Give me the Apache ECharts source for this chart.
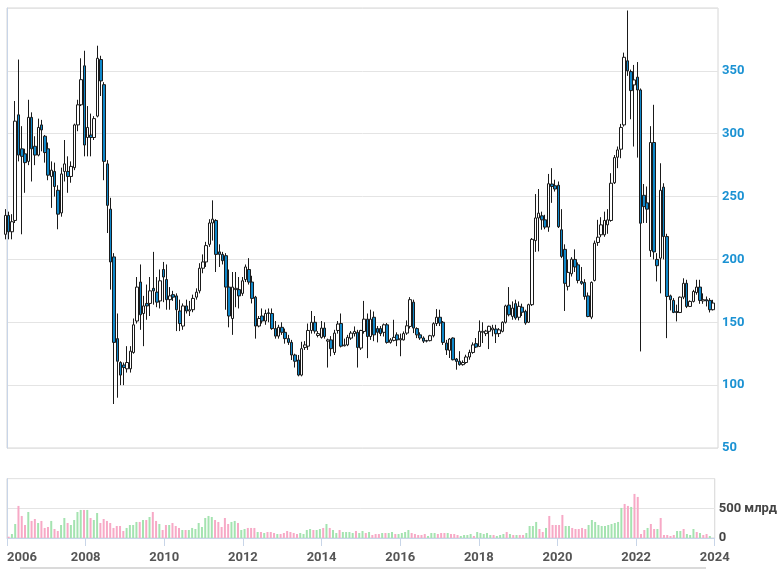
<!DOCTYPE html>
<html><head><meta charset="utf-8">
<script src="https://cdn.jsdelivr.net/npm/echarts@6/dist/echarts.min.js"></script>
<style>html,body{margin:0;padding:0;background:#fff}#c{width:780px;height:569px}</style>
</head><body><div id="c"></div><script>
// Monthly candles from 2006-01 to 2023-12: [open, close, low, high]
const ohlc = [
[220,235,216,240],[235,222,216,238],[222,230,216,236],[231,310,229,326],[315,283,278,359],[288,282,220,306],
[284,277,253,288],[278,313,275,327],[313,288,262,317],[290,283,275,298],[283,305,282,312],[307,303,286,311],
[298,285,277,299],[288,267,263,293],[266,271,241,278],[270,258,250,277],[255,236,224,259],[237,268,234,273],
[270,276,262,295],[270,266,253,282],[266,274,261,278],[273,307,271,308],[307,323,302,327],[323,343,322,360],
[354,291,282,366],[297,305,282,322],[299,297,282,316],[297,312,295,314],[314,360,313,370],[359,342,330,362],
[339,278,263,341],[276,243,221,279],[240,198,176,249],[202,134,85,205],[137,119,90,157],[118,108,100,119],
[116,114,100,118],[113,118,110,131],[113,127,110,131],[126,148,125,153],[151,178,149,186],[182,156,144,196],
[157,163,131,171],[165,163,152,180],[165,175,155,186],[177,175,164,206],[174,166,162,186],[167,183,161,192],
[192,186,166,198],[184,168,160,196],[168,171,160,178],[172,170,167,175],[171,160,143,173],[159,149,143,168],
[147,163,144,165],[163,159,157,168],[159,160,155,167],[160,169,158,172],[170,174,168,177],[175,193,173,197],
[193,198,189,204],[198,211,194,214],[212,229,210,232],[229,232,215,247],[231,204,190,232],[206,204,194,212],
[204,199,196,206],[203,178,160,205],[178,155,146,192],[153,178,140,190],[176,177,162,190],[176,171,161,186],
[173,183,171,186],[184,194,182,196],[192,182,180,201],[182,169,165,187],[170,147,137,171],[147,153,146,155],
[155,151,149,161],[151,157,148,160],[157.5,157,150,161],[157,145,144,161],[145,139,137,151],[139,146,137,148],
[146,142,140,150],[142,137,133,145],[137,134,132,140],[134,124,120,136],[124,119,114,125],[120,108,107,124],
[108,129,107,134.5],[130,132,128,135],[131,143.5,128,149],[143.5,150,141,159],[150,143,141,155],[139.5,141,138,143],
[138,145.4,137,151],[145.4,138.7,137,150],[135,136,114,137],[136,129,123,139],[126,141.4,124,144],[143.5,148.6,141,151],
[149,131,130,157],[131.3,132,130.8,137],[132,138,131,140],[137.4,141.4,136,143],[141,142.7,138.7,146.7],[142,130,114,144],
[129.5,143.5,128,144],[142.7,152.5,141,167],[152.5,138.7,121.5,157],[138.7,152.5,136,160],[154,140,135,158.6],[145,142,134,147],
[145,141,139,147],[142,148,138.7,149],[148,134,133,149.4],[134,136,133,137.4],[135.6,138,134.8,152],[140,136,131,142],
[136,137,123,141],[136,141,135.5,142.7],[141.4,147.2,140,151.5],[146.7,168,145,170],[166,145.4,141.4,168],[145,140,137.4,146],
[140,137.5,136,142],[137.5,135,133.5,138.8],[135.5,135,134,136],[135.4,139.3,134.8,140],[139.3,148.9,138,150],[149,154,147,160.5],
[154,149.4,147,160],[150,134,132,151],[133.5,128,124,136],[127.7,136.7,121.6,137.5],[137.5,120.2,119.7,138],[120.8,118.9,112.3,121.6],
[119,116.3,115.5,127],[116.3,118,115.5,119.7],[118,122.4,117,124.2],[122.4,126,120.2,128.2],[126,132,125,134],[133,130.3,129.5,137.5],
[130.8,142.8,130.3,151.5],[142,142.8,133.5,150],[141,143,139,144],[142.8,146.8,128.7,147.3],[144,145.4,138.8,148],[144.6,140.9,133.5,148],
[141,144,138.3,145.4],[142.8,150,142,150.7],[150,163,149,164],[163.7,156,154.7,178],[154.7,161.3,152,166.6],[164.8,153.4,152,168],
[154,162.7,151.5,166.6],[162,158,155,164.8],[158.7,149.4,148,160],[150,164,149.4,164.8],[164,216,163,217],[215,233,206,252],
[233,236.8,206.4,256],[234.7,231.5,223.6,238],[231.5,225.7,224,235.5],[225.7,260.2,222,268],[260,258,245,272.6],[258.6,256,254,263.4],
[259,226,225,262],[223.6,202.4,201,240],[208,181,159,212],[178.6,189.7,175.3,200],[188.6,200.2,186.4,201.8],[200,194,190,208],
[195.7,183.3,181,197.6],[182.5,181,179.8,194],[181.7,170.5,168,184.3],[171,154.6,154,173.7],[154.1,181.7,152.5,182.5],[183.3,212.9,182.5,215],
[213.5,217.7,210.8,231.5],[219.6,227.5,217.7,233.6],[219.6,231,218,238],[227.5,231.5,220.4,240],[231,260.6,230,268.6],[261,281,260,283],
[281.3,287.1,272.6,289.8],[287.7,305,280.5,307.8],[307,360.8,305.7,364.5],[358,350,346,398],[349.4,334.3,311.5,351],[338.8,342.8,289.8,354.7],
[345,334.8,281,357],[334.8,228.8,126.8,336],[251,242,229,260],[245,240,229,258],[207,293,202,306],[293,206,200,323],
[200,195,182.5,205],[201,255,173,276.5],[257.5,218.2,200,260.6],[218.2,170.5,137.4,220.4],[171,168,159.4,172],[167.4,157.8,157.3,169.2],
[158.5,157.8,150.7,164],[157.8,170,157.3,170.5],[170,181,168.4,185],[181,162.6,161.3,183.8],[162.6,166.6,162.1,167.4],[166.6,174.5,165.8,175.8],
[173.7,178,172,183.8],[178,167.4,164.7,183.8],[167,168,164.7,173],[168,167,162.6,170.5],[167.4,160,157.8,169.2],[160,165.3,159.4,167.9]
];
// Monthly turnover, billion roubles
const volume = [
null,22,67,236,540,371,219,438,287,320,253,287,
169,185,287,152,118,219,337,253,219,303,438,472,
472,472,337,303,421,253,320,287,253,169,202,202,
118,169,219,219,270,270,303,303,354,438,287,236,
135,219,219,253,202,169,135,135,135,169,152,253,
185,337,371,354,303,270,185,337,236,270,287,253,
135,152,169,169,169,101,101,84,101,101,84,67,
67,84,118,101,84,67,84,67,135,152,135,135,
152,169,236,169,135,84,135,101,101,101,84,118,
84,118,84,101,51,67,67,84,84,84,101,67,
67,84,101,135,84,67,51,51,67,34,84,84,
67,84,84,84,67,67,51,34,51,51,67,34,
101,84,67,84,51,51,34,51,67,101,67,51,
51,51,51,84,202,202,270,152,101,169,371,219,
219,219,388,202,202,169,152,152,169,152,219,303,
270,219,202,202,219,236,253,270,506,573,540,523,
742,691,67,135,169,236,152,152,337,51,51,34,
51,118,118,152,67,51,152,101,84,51,67,34
];
const firstYear = 2006;
const months = ohlc.map((_, i) => (firstYear + Math.floor(i / 12)) + '-' + String(i % 12 + 1).padStart(2, '0'));

// position on the axis (months since Jan 2006), candle centred on its period start
function monthPos(s) { const [y, m] = s.split('-').map(Number); return (y - firstYear) * 12 + (m - 1) - 0.5; }

const UP = '#ffffff', DOWN = '#0f87c9', EDGE = '#1a1a1a';
const candleData = months.map((s, i) => [monthPos(s), ohlc[i][0], ohlc[i][1], ohlc[i][2], ohlc[i][3]]);
const volData = months.map((s, i) => ({
  value: [monthPos(s), volume[i]],
  itemStyle: { color: ohlc[i][1] >= ohlc[i][0] ? '#a4e3b0' : '#f7a9c6' }
}));

const FONT = 'Roboto, "Liberation Sans", sans-serif';
const chart = echarts.init(document.getElementById('c'), null, { renderer: 'canvas' });
chart.setOption({
  animation: false,
  backgroundColor: '#ffffff',
  grid: [
    { left: 7, right: 62, top: 8, bottom: 121, show: true, borderColor: '#d6d6d6', borderWidth: 1 },
    { left: 7, right: 62, top: 478.6, bottom: 31, show: true, borderColor: '#d6d6d6', borderWidth: 1 }
  ],
  xAxis: [
    { gridIndex: 0, type: 'value', min: 0, max: 216, interval: 24, show: false },
    { gridIndex: 1, type: 'value', min: 0, max: 216, interval: 24, offset: 5,
      axisLine: { show: true, lineStyle: { color: '#c8d5e8' } },
      axisTick: { show: true, length: 8, lineStyle: { color: '#c8d5e8' } },
      axisLabel: { color: '#555', fontSize: 13, fontWeight: 'bold', fontFamily: FONT, margin: 8,
        alignMinLabel: 'left', formatter: v => String(firstYear + v / 12) },
      splitLine: { show: false } }
  ],
  yAxis: [
    { gridIndex: 0, type: 'value', position: 'right', min: 50, max: 400, interval: 50,
      axisLine: { show: true, lineStyle: { color: '#c8d5e8' } }, axisTick: { show: false },
      axisLabel: { color: '#1b92d3', fontSize: 13, fontWeight: 'bold', fontFamily: FONT, margin: 4, showMaxLabel: false },
      splitLine: { lineStyle: { color: '#e4e4e4' } } },
    { gridIndex: 1, type: 'value', position: 'right', min: 0, max: 1000, interval: 500,
      axisLine: { show: true, lineStyle: { color: '#c8d5e8' } }, axisTick: { show: false },
      axisLabel: { color: '#444', fontSize: 13, fontWeight: 'bold', fontFamily: FONT, margin: 4, showMaxLabel: false,
        formatter: v => v === 0 ? '0' : v + ' млрд' },
      splitLine: { lineStyle: { color: '#e4e4e4' } } }
  ],
  series: [
    { type: 'candlestick', xAxisIndex: 0, yAxisIndex: 0, data: candleData, clip: false,
      encode: { x: 0, y: [1, 2, 3, 4] }, barWidth: 3,
      itemStyle: { color: UP, color0: DOWN, borderColor: EDGE, borderColor0: EDGE, borderWidth: 1 } },
    { type: 'bar', xAxisIndex: 1, yAxisIndex: 1, data: volData, barWidth: 2 }
  ],
  graphic: [
    { type: 'rect', shape: { x: 20, y: 567, width: 686, height: 2 }, style: { fill: '#dadada' }, silent: true }
  ]
});
</script></body></html>
